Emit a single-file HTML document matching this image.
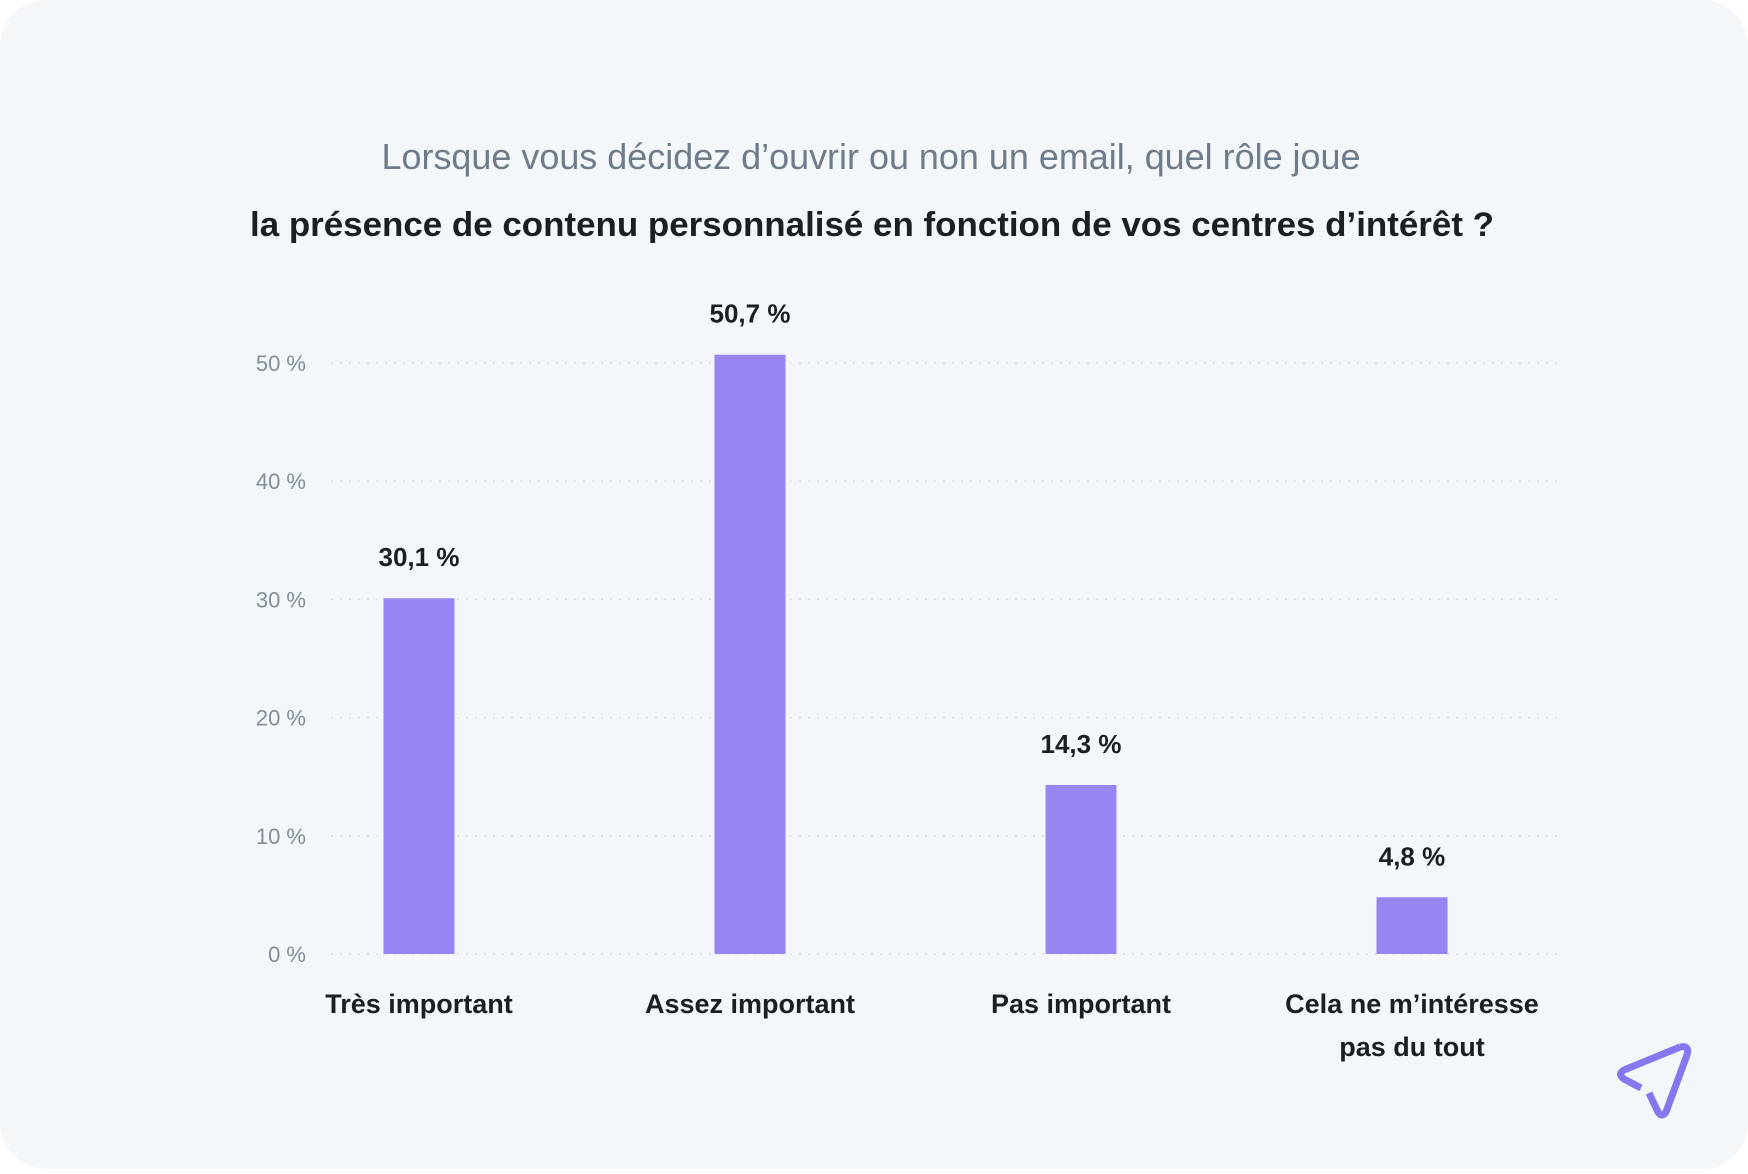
<!DOCTYPE html>
<html><head><meta charset="utf-8">
<style>
html,body{margin:0;padding:0;background:#fff;}
body{width:1748px;height:1169px;overflow:hidden;}
#card{position:absolute;left:0;top:0;width:1748px;height:1169px;background:#f3f7fa;border-radius:46px;}
svg text{font-family:"Liberation Sans",sans-serif;}
</style></head>
<body>
<div id="card">
<svg id="chart" width="1748" height="1169">
  <text x="871" y="169" text-anchor="middle" font-size="36" fill="#6f7b88" textLength="979" lengthAdjust="spacingAndGlyphs">Lorsque vous décidez d’ouvrir ou non un email, quel rôle joue</text>
  <text x="872" y="236" text-anchor="middle" font-size="34" font-weight="bold" fill="#1b1e23" textLength="1244" lengthAdjust="spacingAndGlyphs">la présence de contenu personnalisé en fonction de vos centres d’intérêt ?</text>
  <g id="grid"></g>
  <g id="bars"></g>
  <g>
    <path d="M1680 1047 L1624 1070 Q1617 1074 1624 1079 L1641 1088 M1649 1093 L1658 1112 Q1662 1118 1666 1112 L1687 1055 Q1690 1045 1680 1047" fill="none" stroke="#8577ee" stroke-width="7" stroke-linecap="butt" stroke-linejoin="round"/>
  </g>
</svg>
</div>
<script>
const categories = [["Très important"],["Assez important"],["Pas important"],["Cela ne m’intéresse","pas du tout"]];
const values = [30.1, 50.7, 14.3, 4.8];
const valueLabels = ["30,1 %","50,7 %","14,3 %","4,8 %"];
const ticks = [0,10,20,30,40,50];
const tickLabels = ["0 %","10 %","20 %","30 %","40 %","50 %"];

const NS="http://www.w3.org/2000/svg";
const y0=954, pxPer=11.82, x0=419, step=331, barW=71;
const yScale=v=>y0-v*pxPer;
const xScale=i=>x0+i*step;
function mk(tag,attrs,parent,txt){const e=document.createElementNS(NS,tag);for(const k in attrs)e.setAttribute(k,attrs[k]);if(txt!==undefined)e.textContent=txt;parent.appendChild(e);return e;}
const grid=document.getElementById('grid'), bars=document.getElementById('bars');
ticks.forEach((t,i)=>{
  const l=mk('line',{x1:331,x2:1560,y1:yScale(t),y2:yScale(t),stroke:'#d9dee4','stroke-width':1.5,'stroke-dasharray':'2 7'},grid);
  
  
  const tx=mk('text',{x:306,y:yScale(t)+8,'text-anchor':'end','font-size':22,fill:'#838d97'},grid,tickLabels[i]);
  
  
});
values.forEach((v,i)=>{
  const cx=xScale(i);
  const r=mk('rect',{x:cx-barW/2,y:yScale(v),width:barW,height:y0-yScale(v),fill:'#9685f3'},bars);
  
  
  const vl=mk('text',{x:cx,y:yScale(v)-32,'text-anchor':'middle','font-size':26,'font-weight':'bold',fill:'#1b1e23'},bars,valueLabels[i]);
  
  
  categories[i].forEach((line,j)=>{
    const c=mk('text',{x:cx,y:1013+j*43,'text-anchor':'middle','font-size':27,'font-weight':'bold',fill:'#1b1e23'},bars,line);
    
    
  });
});
</script>
</body></html>
